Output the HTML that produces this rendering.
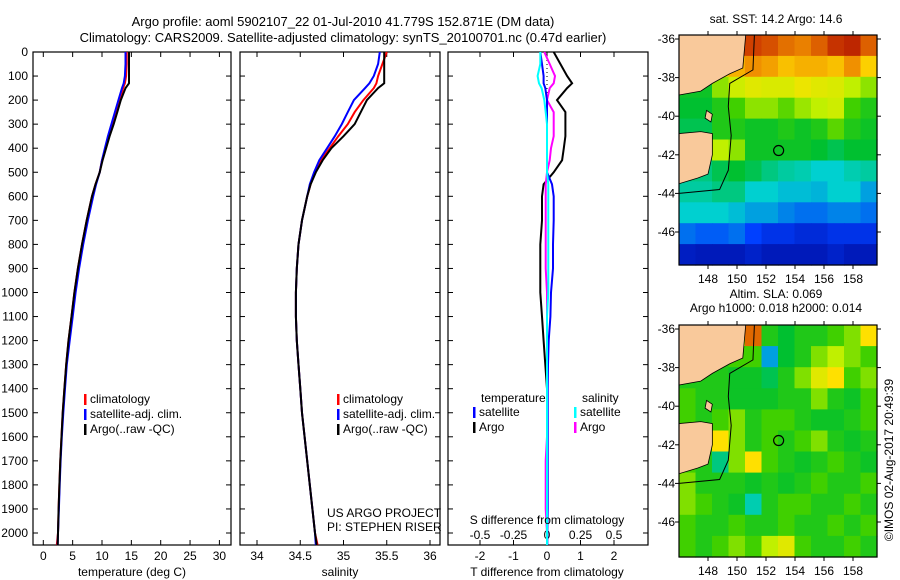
<!DOCTYPE html>
<html><head><meta charset="utf-8">
<style>
html,body{margin:0;padding:0;background:#fff;}
svg{display:block;font-family:"Liberation Sans",sans-serif;}
</style></head>
<body>
<svg id="c" width="900" height="580" viewBox="0 0 900 580" xmlns="http://www.w3.org/2000/svg"></svg>
<script>
// ---- data ----
const depths = [0,50,100,130,150,200,250,300,350,400,450,500,550,600,700,800,900,1000,1100,1200,1300,1400,1500,1600,1700,1800,1900,2000,2050];
const tempArgo = [14.6,14.6,14.6,14.6,14.0,13.2,12.6,12.0,11.3,10.7,10.1,9.6,8.9,8.3,7.4,6.6,5.9,5.3,4.8,4.3,3.9,3.6,3.3,3.1,2.9,2.75,2.6,2.5,2.45];
const tempClim = [14.2,14.2,14.1,13.9,13.6,13.0,12.4,11.8,11.1,10.6,10.0,9.6,8.9,8.3,7.4,6.6,5.9,5.3,4.8,4.3,3.9,3.6,3.3,3.1,2.9,2.75,2.6,2.5,2.3];
const tempSat = [14.0,14.0,13.9,13.7,13.4,12.8,12.2,11.6,11.0,10.5,10.0,9.6,9.0,8.5,7.6,6.8,6.1,5.5,5.0,4.5,4.0,3.7,3.4,3.15,2.95,2.8,2.65,2.5,2.45];
const salArgo = [35.47,35.47,35.47,35.47,35.4,35.27,35.2,35.13,35.0,34.86,34.76,34.68,34.62,34.58,34.52,34.48,34.46,34.45,34.45,34.46,34.48,34.5,34.52,34.55,34.58,34.61,34.64,34.67,34.69];
const salClim = [35.5,35.45,35.4,35.38,35.35,35.23,35.13,35.05,34.94,34.84,34.74,34.67,34.62,34.58,34.52,34.48,34.46,34.45,34.45,34.46,34.48,34.5,34.52,34.55,34.58,34.61,34.64,34.67,34.7];
const salSat = [35.42,35.4,35.35,35.3,35.25,35.12,35.05,34.98,34.9,34.81,34.72,34.66,34.61,34.58,34.52,34.48,34.46,34.45,34.45,34.46,34.48,34.5,34.52,34.55,34.58,34.61,34.64,34.67,34.68];
const tDiffArgo = [0.2,0.4,0.6,0.75,0.6,0.3,0.55,0.55,0.55,0.5,0.45,0.2,-0.1,-0.15,-0.15,-0.2,-0.2,-0.2,-0.15,-0.1,-0.05,0,0,0,0,0,0,0,0];
const tDiffSat = [-0.2,-0.15,-0.1,-0.1,-0.05,0,0,0,0,0,0,0,0.15,0.2,0.2,0.18,0.18,0.12,0.1,0.05,0.03,0.02,0.02,0.02,0.02,0.02,0.02,0.01,0.01];
const sDiffArgo = [-0.02,0.02,0.06,0.05,0.02,0.0,0.05,0.05,0.05,0.03,0.02,0,-0.01,-0.01,-0.01,-0.01,-0.01,0,0,0,0,0,0,0,-0.01,-0.01,-0.01,0,0];
const sDiffSat = [-0.05,-0.05,-0.07,-0.06,-0.04,-0.02,-0.01,0,0,0,0,0,0.01,0.01,0.01,0.01,0.01,0.01,0,0,0,0,0,0,0,0,0,0,0];
const depthTicks = [0,100,200,300,400,500,600,700,800,900,1000,1100,1200,1300,1400,1500,1600,1700,1800,1900,2000];
const tempTicks = [0,5,10,15,20,25,30];
const salTicks = [34,34.5,35,35.5,36];
const salTickLabels = ["34","34.5","35","35.5","36"];
const tdTicks = [-2,-1,0,1,2];
const sdTicks = [-0.5,-0.25,0,0.25,0.5];
const sdTickLabels = ["-0.5","-0.25","0","0.25","0.5"];
const latTicks = [-36,-38,-40,-42,-44,-46];
const lonTicks = [148,150,152,154,156,158];
const sstGrid = [
[.85,.85,.85,.9,.9,.88,.84,.82,.86,.92,.94,.86],
[.7,.7,.72,.76,.8,.78,.74,.76,.76,.74,.8,.72],
[.42,.42,.56,.62,.65,.64,.64,.67,.65,.64,.6,.56],
[.4,.4,.45,.5,.56,.56,.52,.57,.6,.62,.5,.45],
[.38,.38,.45,.45,.42,.42,.45,.42,.45,.52,.45,.42],
[.38,.38,.6,.56,.42,.42,.42,.42,.4,.38,.4,.4],
[.35,.35,.38,.4,.38,.35,.33,.32,.3,.3,.32,.33],
[.33,.33,.35,.35,.3,.3,.28,.28,.27,.3,.3,.25],
[.3,.3,.3,.28,.25,.25,.22,.2,.2,.22,.22,.2],
[.2,.18,.18,.2,.15,.12,.12,.1,.1,.12,.12,.12],
[.07,.06,.06,.06,.08,.06,.06,.06,.06,.08,.06,.06]];
const slaGrid = [
[.45,.45,.5,.6,.85,.45,.4,.45,.45,.5,.55,.7],
[.45,.45,.45,.5,.5,.25,.4,.45,.55,.6,.55,.5],
[.45,.45,.45,.42,.42,.38,.45,.55,.65,.7,.5,.55],
[.5,.45,.45,.42,.42,.42,.45,.45,.55,.45,.42,.5],
[.5,.45,.5,.55,.45,.5,.5,.45,.42,.42,.45,.5],
[.45,.45,.7,.55,.45,.5,.45,.5,.55,.45,.42,.45],
[.5,.45,.35,.55,.7,.5,.45,.42,.45,.5,.45,.42],
[.55,.45,.45,.45,.42,.45,.42,.45,.5,.45,.45,.5],
[.55,.5,.45,.42,.32,.45,.5,.5,.45,.45,.5,.45],
[.5,.45,.45,.5,.45,.45,.5,.45,.45,.5,.45,.5],
[.5,.45,.5,.55,.5,.6,.65,.5,.45,.45,.5,.45]];

const NS="http://www.w3.org/2000/svg";
const svg=document.getElementById('c');
function el(tag,attrs,parent){const e=document.createElementNS(NS,tag);for(const k in attrs)e.setAttribute(k,attrs[k]);(parent||svg).appendChild(e);return e;}
function txt(x,y,s,anchor,size,parent){const t=el('text',{x:x,y:y,'font-size':size||12,'text-anchor':anchor||'start',fill:'#000'},parent);t.textContent=s;return t;}

const yTop=52, yBot=545;
const yD=d=>yTop+d*0.2405;
const P1={x0:33,x1:231}, P2={x0:240,x1:440}, P3={x0:448,x1:648};
const xT=v=>43.3+v*5.87;
const xS=v=>257+(v-34)*86.5;
const xTD=v=>547+v*33.5;
const xSD=v=>547+v*134;

let tt=txt(343,26,"Argo profile: aoml 5902107_22 01-Jul-2010 41.779S 152.871E (DM data)","middle",13);


tt=txt(343,42,"Climatology: CARS2009. Satellite-adjusted climatology: synTS_20100701.nc (0.47d earlier)","middle",13);



function panel(P,name){
  const g=el('g',{});
  
  
  el('rect',{x:P.x0,y:yTop,width:P.x1-P.x0,height:yBot-yTop,fill:'none',stroke:'#000','stroke-width':1.2},g);
  depthTicks.forEach(d=>{const y=yD(d);
    el('line',{x1:P.x0,x2:P.x0+5,y1:y,y2:y,stroke:'#000'},g);
    el('line',{x1:P.x1-5,x2:P.x1,y1:y,y2:y,stroke:'#000'},g);});
  return g;
}
function xticks(g,P,ticks,fx,labels,ly){
  ticks.forEach((v,i)=>{const x=fx(v);
    el('line',{x1:x,x2:x,y1:yTop,y2:yTop+5,stroke:'#000'},g);
    el('line',{x1:x,x2:x,y1:yBot-5,y2:yBot,stroke:'#000'},g);
    if(labels){const l=txt(x,ly,labels[i],'middle',12,g);
      
      }
  });
}
function line(g,xs,fx,color,name,w){
  const pts=depths.map((d,i)=>fx(xs[i]).toFixed(1)+','+yD(d).toFixed(1)).join(' ');
  const p=el('polyline',{points:pts,fill:'none',stroke:color,'stroke-width':w||2,'stroke-linejoin':'miter'},g);
  
  
}
function legend(g,x,y,items){
  items.forEach((it,i)=>{
    el('rect',{x:x,y:y+i*15-9,width:2.5,height:11,fill:it[0]},g);
    const l=txt(x+6,y+i*15,it[1],'start',12,g);
    
    
  });
}

let g1=panel(P1,'temperature-panel');
depthTicks.forEach(d=>{const l=txt(28,yD(d)+4,String(d),'end',12,g1);
  
  });
xticks(g1,P1,tempTicks,xT,tempTicks.map(String),560);
line(g1,tempClim,xT,'#f00','temp-climatology-line');
line(g1,tempSat,xT,'#00f','temp-satellite-line');
line(g1,tempArgo,xT,'#000','temp-argo-line');
legend(g1,84,403,[['#f00','climatology'],['#00f','satellite-adj. clim.'],['#000','Argo(..raw -QC)']]);
tt=txt(132,576,'temperature (deg C)','middle',12,g1);



let g2=panel(P2,'salinity-panel');
xticks(g2,P2,salTicks,xS,salTickLabels,560);
line(g2,salClim,xS,'#f00','sal-climatology-line');
line(g2,salSat,xS,'#00f','sal-satellite-line');
line(g2,salArgo,xS,'#000','sal-argo-line');
legend(g2,337,403,[['#f00','climatology'],['#00f','satellite-adj. clim.'],['#000','Argo(..raw -QC)']]);
tt=txt(327,517,'US ARGO PROJECT','start',12,g2);


tt=txt(327,531,'PI: STEPHEN RISER','start',12,g2);


tt=txt(340,576,'salinity','middle',12,g2);



let g3=panel(P3,'difference-panel');
xticks(g3,P3,tdTicks,xTD,tdTicks.map(String),560);
sdTicks.forEach((v,i)=>{const l=txt(xSD(v),539,sdTickLabels[i],'middle',12,g3);
  
  });
el('line',{x1:547,x2:547,y1:yTop,y2:yD(520),stroke:'#000','stroke-dasharray':'1,3'},g3);
line(g3,tDiffArgo,xTD,'#000','t-diff-argo-line');
line(g3,sDiffArgo,xSD,'#f0f','s-diff-argo-line');
line(g3,tDiffSat,xTD,'#00f','t-diff-satellite-line');
line(g3,sDiffSat,xSD,'#0ff','s-diff-satellite-line');
tt=txt(481,402,'temperature','start',12,g3);


tt=txt(582,402,'salinity','start',12,g3);


legend(g3,473,416,[['#00f','satellite'],['#000','Argo']]);
legend(g3,574,416,[['#0ff','satellite'],['#f0f','Argo']]);
tt=txt(547,524,'S difference from climatology','middle',12,g3);


tt=txt(547,576,'T difference from climatology','middle',12,g3);



const cstops=[[0,[0,0,140]],[.15,[0,64,255]],[.3,[0,208,208]],[.4,[0,192,48]],[.5,[64,208,0]],[.6,[192,240,0]],[.7,[255,224,0]],[.8,[240,144,0]],[.9,[208,64,0]],[1,[160,0,0]]];
function cmap(v){for(let i=1;i<cstops.length;i++){if(v<=cstops[i][0]){const a=cstops[i-1],b=cstops[i],f=(v-a[0])/(b[0]-a[0]);
  const c=a[1].map((x,k)=>Math.round(x+(b[1][k]-x)*f));return 'rgb('+c.join(',')+')';}}return 'rgb(160,0,0)';}

function drawMap(y0,y1,latTop,grid,name,title1,title2){
  const x0=679,x1=877;
  const g=el('g',{});
  
  
  const lonX=l=>708+(l-148)*14.5;
  const latY=l=>latTop+(-36-l)*19.3;
  const rows=grid.length, cols=grid[0].length, cw=(x1-x0)/cols, rh=(y1-y0)/rows;
  grid.forEach((r,i)=>r.forEach((v,j)=>{
    const c=el('rect',{x:(x0+j*cw).toFixed(1),y:(y0+i*rh).toFixed(1),width:(cw+0.6).toFixed(1),height:(rh+0.6).toFixed(1),fill:cmap(v)},g);
    
    
  }));
  el('path',{d:`M${lonX(151.2)},${y0} L${lonX(151.1)},${latY(-37.6)} L${lonX(149.5)},${latY(-38.3)} L${lonX(149.4)},${latY(-39.5)} L${lonX(149.6)},${latY(-41)} L${lonX(149.4)},${latY(-42.8)} L${lonX(148.8)},${latY(-43.8)} L${x0},${latY(-44)}`,fill:'none',stroke:'#000','stroke-width':1},g);
  const land=el('path',{d:`M${x0},${y0} L${lonX(150.6)},${y0} L${lonX(150.4)},${latY(-37.5)} L${lonX(149.5)},${latY(-37.8)} L${lonX(148.3)},${latY(-38.3)} L${lonX(147.5)},${latY(-38.7)} L${x0},${latY(-38.9)} Z M${x0},${latY(-40.9)} L${lonX(147.5)},${latY(-40.8)} L${lonX(148.3)},${latY(-40.9)} L${lonX(148.3)},${latY(-42)} L${lonX(148.0)},${latY(-43)} L${lonX(147.3)},${latY(-43.2)} L${x0},${latY(-43.5)} Z M${lonX(147.9)},${latY(-39.7)} L${lonX(148.3)},${latY(-39.9)} L${lonX(148.2)},${latY(-40.3)} L${lonX(147.8)},${latY(-40.1)} Z`,fill:'#f9c99b',stroke:'#000','stroke-width':0.8},g);
  
  
  el('rect',{x:x0,y:y0,width:x1-x0,height:y1-y0,fill:'none',stroke:'#000','stroke-width':1.2},g);
  latTicks.forEach(l=>{const y=latY(l);
    el('line',{x1:x0-4,x2:x0,y1:y,y2:y,stroke:'#000'},g);
    el('line',{x1:x1,x2:x1+4,y1:y,y2:y,stroke:'#000'},g);
    const lb=txt(x0-4,y+4,String(l),'end',12,g);
    
    });
  lonTicks.forEach(l=>{const x=lonX(l);
    el('line',{x1:x,x2:x,y1:y0-4,y2:y0,stroke:'#000'},g);
    el('line',{x1:x,x2:x,y1:y1,y2:y1+4,stroke:'#000'},g);
    const lb=txt(x,y1+18,String(l),'middle',12,g);
    
    });
  const circ=el('circle',{cx:lonX(152.871),cy:latY(-41.779),r:5,fill:'none',stroke:'#000','stroke-width':1.2},g);
  
  
  if(title1){const a=txt(776,title2?y0-27:y0-12,title1,'middle',12,g);
    
    }
  if(title2){const a=txt(776,y0-13,title2,'middle',12,g);
    
    }
}
drawMap(35,265,39,sstGrid,'sst-map','sat. SST: 14.2  Argo: 14.6',null);
drawMap(325,557,329,slaGrid,'sla-map','Altim. SLA: 0.069','Argo h1000: 0.018 h2000: 0.014');

tt=txt(0,0,'©IMOS 02-Aug-2017 20:49:39','middle',12);
tt.setAttribute('transform','translate(893,460) rotate(-90)');


</script>
</body></html>
